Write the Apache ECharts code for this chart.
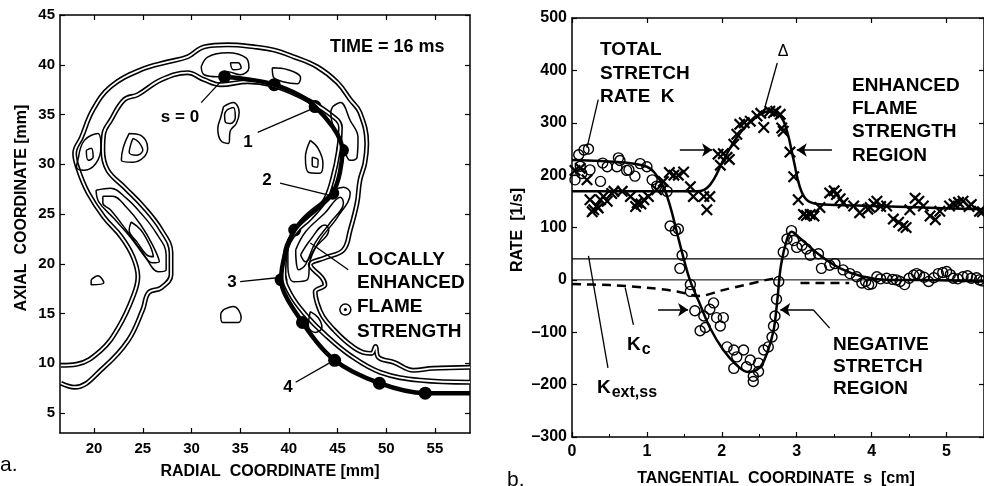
<!DOCTYPE html>
<html>
<head>
<meta charset="utf-8">
<script src="https://cdn.jsdelivr.net/npm/echarts@6/dist/echarts.min.js"></script>
<style>
  html, body { margin: 0; padding: 0; background: #fff; }
  #chart { width: 984px; height: 486px; }
</style>
</head>
<body>
<div id="chart"></div>
<script>
// ---------- panel a : flame contours, [radial mm, axial mm] ----------
const xTicksA = [20, 25, 30, 35, 40, 45, 50, 55];
const yTicksA = [5, 10, 15, 20, 25, 30, 35, 40, 45];

// outer edge of the flame sheet (double contour)
const outerEdge = [
  [16.6, 9.8], [18.2, 9.9], [20.7, 11.3], [22.5, 13.6], [24.0, 16.7], [24.5, 18.7],
  [24.0, 20.7], [22.8, 22.7], [21.0, 24.7], [19.4, 27.1], [18.4, 29.4], [18.0, 31.1],
  [18.7, 32.7], [19.9, 35.5], [21.7, 37.8], [24.8, 39.5], [27.6, 40.3], [29.6, 40.8],
  [31.3, 41.8], [33.7, 42.0], [36.4, 41.8], [38.4, 41.5], [40.5, 40.8], [42.9, 39.8],
  [45.0, 38.2], [46.3, 36.5], [47.3, 35.2], [48.0, 32.1], [47.8, 30.1], [47.3, 28.4],
  [47.0, 26.1], [46.3, 23.4], [45.6, 21.4], [43.7, 20.6], [42.2, 19.9], [43.4, 18.6],
  [43.7, 17.9], [42.7, 17.2], [42.9, 16.1], [43.5, 14.7], [44.6, 13.4], [46.0, 12.1],
  [47.6, 11.1], [48.5, 11.0], [48.9, 11.7], [49.2, 10.6], [50.8, 10.1], [52.8, 9.3],
  [54.8, 9.5], [58.6, 9.6]
];
// inner edge of the flame sheet (double contour)
const innerEdge = [
  [16.6, 8.0], [18.0, 7.6], [21.0, 9.6], [23.5, 12.3], [25.0, 15.4], [25.6, 17.1],
  [26.9, 17.6], [27.9, 18.9], [27.9, 21.1], [26.9, 23.4], [25.1, 25.7], [23.1, 27.7],
  [21.4, 29.4], [20.9, 31.4], [21.0, 33.1], [21.7, 34.4], [23.1, 36.5], [24.5, 37.0],
  [26.9, 38.5], [29.6, 39.2], [31.3, 38.5], [33.0, 38.0], [35.8, 38.3], [38.1, 38.0],
  [41.2, 36.8], [44.0, 35.2], [45.3, 33.7], [45.1, 31.4], [44.5, 28.6], [43.7, 26.4],
  [42.2, 24.6], [40.7, 23.2], [39.7, 21.4], [39.5, 18.9], [40.2, 16.9], [41.7, 14.9],
  [43.7, 12.9], [46.3, 10.8], [49.4, 9.1], [53.5, 8.3], [58.6, 8.1]
];
// closed contour islands
const islands = [
  [[23.6, 33.1], [24.8, 32.9], [25.5, 31.6], [25.1, 30.7], [24.0, 30.2], [22.8, 30.4], [23.0, 31.7]],
  [[24.0, 32.6], [24.6, 32.2], [25.0, 31.4], [24.3, 30.9], [23.6, 31.2], [23.8, 32.1]],
  [[33.3, 35.8], [34.3, 36.2], [34.9, 35.2], [34.6, 34.1], [34.0, 33.4], [33.8, 32.1], [33.0, 32.4], [32.7, 33.6], [33.0, 34.7]],
  [[33.7, 35.5], [34.3, 35.7], [34.5, 34.7], [34.0, 34.1], [33.5, 34.2], [33.4, 35.0]],
  [[42.2, 32.4], [43.0, 31.6], [43.5, 30.1], [43.2, 29.1], [42.0, 29.2], [41.7, 30.7]],
  [[42.4, 30.7], [43.0, 30.4], [42.9, 29.7], [42.4, 29.9]],
  [[19.7, 18.4], [20.4, 18.8], [21.0, 18.1], [19.7, 17.9]],
  [[33.3, 15.4], [34.3, 15.7], [35.1, 14.6], [34.8, 14.1], [33.2, 14.1], [33.0, 14.9]],
  [[31.0, 39.8], [31.7, 40.8], [33.7, 41.2], [35.6, 40.7], [35.9, 39.7], [35.0, 39.0], [33.7, 39.3], [32.7, 38.8], [31.3, 39.0]],
  [[34.0, 40.2], [34.8, 40.2], [35.1, 39.7], [34.3, 39.5]],
  [[38.3, 39.7], [39.9, 39.5], [41.2, 38.7], [40.9, 38.1], [39.4, 38.3], [38.4, 38.8]],
  [[44.5, 35.8], [45.3, 36.2], [46.3, 34.4], [47.1, 32.7], [47.0, 30.7], [46.3, 30.4], [45.6, 31.7], [44.6, 33.7], [44.3, 35.2]],
  [[18.4, 30.7], [19.0, 32.4], [20.4, 33.1], [20.7, 31.7], [20.2, 30.1], [19.0, 29.4], [18.2, 29.7]],
  [[19.2, 31.4], [19.7, 31.6], [19.9, 30.7], [19.4, 30.4]],
  [[20.2, 27.4], [21.7, 27.6], [23.3, 26.6], [24.8, 25.1], [26.3, 23.2], [27.4, 20.9], [27.4, 19.4], [26.6, 19.2], [25.3, 20.6], [23.8, 22.6], [22.0, 24.6], [20.5, 26.2]],
  [[20.9, 26.8], [21.9, 26.8], [23.3, 25.7], [24.8, 23.9], [26.0, 21.9], [26.7, 20.2], [26.0, 20.1], [24.8, 21.4], [23.3, 23.4], [21.7, 25.4], [20.9, 26.1]],
  [[23.8, 24.2], [24.8, 23.4], [25.8, 21.7], [26.1, 20.7], [25.4, 20.9], [24.4, 22.2], [23.6, 23.4]],
  [[39.9, 22.4], [41.2, 24.4], [43.2, 26.1], [45.6, 27.7], [46.3, 27.1], [45.0, 24.7], [43.2, 22.4], [42.2, 20.4], [41.9, 18.4], [40.5, 18.2], [39.9, 19.7]],
  [[40.7, 21.4], [41.7, 23.2], [43.7, 25.1], [45.3, 26.7], [45.6, 26.1], [44.3, 24.2], [42.7, 22.1], [41.7, 19.9], [41.0, 19.4]],
  [[41.2, 20.9], [42.2, 22.4], [43.7, 23.9], [44.1, 23.4], [42.7, 21.6], [41.7, 20.2]],
  [[42.2, 15.2], [43.0, 14.6], [43.4, 13.6], [42.7, 13.1], [42.0, 13.8]]
];
const smallRing = [[45.8, 15.4]];
// flame front path used for s, with its marker dots
const flameDots = [
  [33.4, 38.8], [38.5, 38.0], [42.7, 35.8], [45.5, 31.4], [44.5, 27.1], [40.6, 23.4],
  [39.2, 18.4], [41.4, 14.1], [44.7, 10.3], [49.3, 8.0], [54.0, 7.0]
];
const flameEnd = [[58.6, 7.0]];
// leader lines of panel a
const leadersA = [
  [[31.0, 36.2], [33.0, 38.3]],
  [[36.8, 33.2], [42.2, 35.5]],
  [[39.1, 28.1], [44.1, 26.9]],
  [[35.0, 18.2], [38.8, 18.6]],
  [[40.7, 8.1], [44.1, 10.0]],
  [[46.1, 19.4], [42.2, 22.1]]
];

// ---------- panel b : rates along s ----------
const stretchFitS = [0, 0.7, 1.0, 1.1, 1.22, 1.31, 1.4, 1.49, 1.58, 1.71, 1.84, 2.02, 2.2, 2.35, 2.5, 2.6, 2.69, 2.74, 2.79, 2.87, 2.93, 3.04, 3.31, 3.58, 3.89, 4.24, 4.69, 5.5];
const stretchFitK = [229, 224, 216, 205, 178, 141, 91, 41, -3, -47, -91, -134, -163, -176, -168, -141, -97, -40, 28, 78, 92, 80, 47, 22, 6, 0, 0, -3];
const strengthFitS = [0, 1.13, 1.67, 1.84, 2.02, 2.2, 2.42, 2.64, 2.78, 2.87, 2.96, 3.04, 3.13, 3.27, 3.8, 4.69, 5.5];
const strengthFitK = [169, 169, 169, 181, 228, 272, 306, 322, 313, 284, 228, 178, 153, 145, 142, 138, 135];
const circS = [0.09, 0.16, 0.22, 0.04, 0.11, 0.13, 0.24, 0.38, 0.41, 0.47, 0.6, 0.62, 0.64, 0.73, 0.76, 0.84, 0.91, 1.0, 1.07, 1.13, 1.18, 1.27,
  1.31, 1.38, 1.42, 1.47, 1.44, 1.58, 1.58, 1.64, 1.76, 1.84, 1.89, 1.93, 2.02, 1.98, 1.71, 1.78, 2.07, 2.16, 2.29, 2.2, 2.16, 2.33, 2.38, 2.42, 2.42, 2.49, 2.49, 2.56, 2.62, 2.67, 2.69, 2.71, 2.73, 2.76,
  2.82, 2.87, 2.93, 2.96, 3.0, 3.07, 3.13, 3.18, 3.29, 3.33, 3.44, 3.51, 3.62, 3.71, 3.8, 3.87, 3.96, 4.07, 4.2, 4.33, 4.44, 4.56, 4.64, 4.76, 4.89, 5.0, 5.09, 5.22, 5.33, 5.44,
  3.92, 4.0, 4.12, 4.28, 4.38, 4.5, 4.6, 4.7, 4.83, 4.95, 5.05, 5.15, 5.28, 5.4, 5.48];
const circK = [239, 248, 250, 191, 217, 203, 210, 188, 223, 216, 216, 233, 228, 209, 210, 198, 222, 216, 191, 179, 178, 169,
  103, 94, 97, 47, 22, -9, -22, -59, -69, -56, -44, -72, -72, -88, -97, -91, -128, -134, -134, -147, -169, -166, -153, -184, -194, -175, -159, -134, -128, -109, -88, -69, -37, -3,
  53, 78, 94, 75, 62, 66, 59, 47, 50, 22, 28, 31, 19, 12, 6, -6, -9, 6, 3, 0, -9, 9, 9, -3, 12, 16, 3, 6, 3, 0,
  -3, -8, 2, 1, -3, 3, 12, 5, 4, 14, 10, 2, 8, 4, -2];
const crossS = [0.04, 0.11, 0.2, 0.24, 0.29, 0.33, 0.38, 0.42, 0.56, 0.67, 0.78, 0.87, 0.96, 1.02, 1.13, 1.22, 1.36, 1.49, 1.58, 1.62,
  1.76, 1.84, 1.8, 1.98, 2.02, 2.07, 2.16, 2.2, 2.24, 2.38, 2.47, 2.56, 2.64, 2.69, 2.78, 2.82, 2.91, 2.96, 3.02, 3.09,
  3.18, 3.31, 3.44, 3.53, 3.62, 3.76, 3.84, 3.98, 4.07, 4.2, 4.29, 4.42, 4.51, 4.58, 4.69, 4.78, 4.91, 5.04, 5.22, 5.33, 5.44,
  0.27, 0.35, 0.47, 0.53, 0.85, 0.92, 1.3, 1.42, 1.95, 2.1, 2.3, 2.52, 2.72, 2.8, 3.13, 3.23, 3.5, 3.58, 3.95, 4.03, 4.12,
  4.36, 4.46, 4.63, 4.85, 5.1, 5.16, 5.3, 5.48];
const crossK = [209, 213, 191, 153, 134, 141, 153, 159, 169, 169, 159, 147, 153, 159, 172, 188, 200, 206, 178, 159,
  159, 159, 134, 219, 241, 234, 259, 278, 297, 303, 313, 291, 322, 319, 316, 284, 244, 197, 153, 125,
  125, 138, 166, 163, 147, 141, 128, 138, 150, 141, 116, 103, 134, 156, 141, 122, 131, 141, 150, 144, 131,
  130, 137, 150, 165, 140, 145, 205, 200, 240, 230, 300, 318, 322, 290, 123, 122, 170, 155, 135, 145, 140,
  110, 100, 150, 115, 145, 148, 140, 130];
const kcS = [0, 0.5, 1.0, 1.4, 1.7, 2.0, 2.3, 2.6, 2.78];
const kcK = [-8, -10, -15, -22, -31, -20, -10, 0, 5];
const kcTailS = [3.05, 3.7];
const kcTailK = [-6, -6];
const kExtSS = 40;
const leadersB = [
  [[0.35, 344], [0.2, 252]],
  [[2.74, 414], [2.58, 332]],
  [[0.82, -86], [0.71, -15]],
  [[0.22, 46], [0.48, -168]],
  [[3.44, -92], [3.22, -57]]
];
const arrowsB = [
  [[1.44, 248], [1.87, 248]],
  [[3.47, 248], [3.0, 248]],
  [[1.15, -57], [1.55, -57]],
  [[3.22, -57], [2.78, -57]]
];

const zip = (a, b) => a.map((v, i) => [v, b[i]]);
const FONT = '"Liberation Sans", Arial, sans-serif';
const CROSS = 'path://M0,1.3L1.3,0L5,3.7L8.7,0L10,1.3L6.3,5L10,8.7L8.7,10L5,6.3L1.3,10L0,8.7L3.7,5Z';

const chart = echarts.init(document.getElementById('chart'));

function axisCommon(extra) {
  return Object.assign({
    type: 'value',
    axisLine: { onZero: false, lineStyle: { color: '#000', width: 1.5 } },
    axisTick: { inside: true, length: 5, lineStyle: { color: '#000', width: 1.2 } },
    axisLabel: { color: '#000', fontWeight: 'bold', fontFamily: FONT },
    splitLine: { show: false }
  }, extra);
}

const series = [];
// double contour edges: black band with white core
[outerEdge, innerEdge].forEach((pts) => {
  series.push({ type: 'line', xAxisIndex: 0, yAxisIndex: 0, data: pts, smooth: 0.4, symbol: 'none',
    lineStyle: { color: '#000', width: 5 }, silent: true });
  series.push({ type: 'line', xAxisIndex: 0, yAxisIndex: 0, data: pts, smooth: 0.4, symbol: 'none',
    lineStyle: { color: '#fff', width: 1.8 }, silent: true });
});
islands.forEach((loop) => {
  series.push({ type: 'line', xAxisIndex: 0, yAxisIndex: 0, data: loop.concat([loop[0]]), smooth: 0.4,
    symbol: 'none', lineStyle: { color: '#000', width: 1.5 }, silent: true });
});
series.push({ type: 'scatter', xAxisIndex: 0, yAxisIndex: 0, data: smallRing, symbol: 'circle',
  symbolSize: 11, itemStyle: { color: '#fff', borderColor: '#000', borderWidth: 1.5, opacity: 1 }, silent: true });
series.push({ type: 'scatter', xAxisIndex: 0, yAxisIndex: 0, data: smallRing, symbol: 'circle',
  symbolSize: 3, itemStyle: { color: '#000', opacity: 1 }, silent: true });
series.push({ type: 'line', xAxisIndex: 0, yAxisIndex: 0, data: flameDots.concat(flameEnd), smooth: 0.3,
  symbol: 'none', lineStyle: { color: '#000', width: 4.5 }, silent: true });
series.push({ type: 'scatter', xAxisIndex: 0, yAxisIndex: 0, data: flameDots, symbol: 'circle',
  symbolSize: 13, itemStyle: { color: '#000', opacity: 1 }, silent: true });
leadersA.forEach((seg) => {
  series.push({ type: 'line', xAxisIndex: 0, yAxisIndex: 0, data: seg, symbol: 'none',
    lineStyle: { color: '#000', width: 1.3 }, silent: true });
});

// panel b
series.push({ type: 'line', xAxisIndex: 2, yAxisIndex: 2, data: [[0, kExtSS], [5.5, kExtSS]], symbol: 'none',
  lineStyle: { color: '#000', width: 1.2 }, silent: true,
  markLine: { silent: true, symbol: ['none', 'arrow'], symbolSize: 10, label: { show: false },
    lineStyle: { color: '#000', width: 1.5, type: 'solid' },
    data: arrowsB.map((a) => [{ coord: a[0] }, { coord: a[1] }]) } });
series.push({ type: 'line', xAxisIndex: 2, yAxisIndex: 2, data: [[0, 0], [5.5, 0]], symbol: 'none',
  lineStyle: { color: '#000', width: 1 }, silent: true });
series.push({ type: 'line', xAxisIndex: 2, yAxisIndex: 2, data: zip(kcS, kcK), smooth: 0.3, symbol: 'none',
  lineStyle: { color: '#000', width: 2.5, type: [9, 6] }, silent: true });
series.push({ type: 'line', xAxisIndex: 2, yAxisIndex: 2, data: zip(kcTailS, kcTailK), symbol: 'none',
  lineStyle: { color: '#000', width: 2.5, type: [9, 6] }, silent: true });
series.push({ type: 'scatter', xAxisIndex: 2, yAxisIndex: 2, data: zip(crossS, crossK), symbol: CROSS,
  symbolSize: 12, itemStyle: { color: '#000', opacity: 1 }, silent: true });
series.push({ type: 'scatter', xAxisIndex: 2, yAxisIndex: 2, data: zip(circS, circK), symbol: 'circle',
  symbolSize: 10, itemStyle: { color: 'rgba(255,255,255,0)', borderColor: '#000', borderWidth: 1.4, opacity: 1 }, silent: true });
series.push({ type: 'line', xAxisIndex: 2, yAxisIndex: 2, data: zip(stretchFitS, stretchFitK), smooth: 0.4,
  symbol: 'none', lineStyle: { color: '#000', width: 2.5 }, silent: true });
series.push({ type: 'line', xAxisIndex: 2, yAxisIndex: 2, data: zip(strengthFitS, strengthFitK), smooth: 0.4,
  symbol: 'none', lineStyle: { color: '#000', width: 2.5 }, silent: true });
leadersB.forEach((seg) => {
  series.push({ type: 'line', xAxisIndex: 2, yAxisIndex: 2, data: seg, symbol: 'none',
    lineStyle: { color: '#000', width: 1.3 }, silent: true });
});

function txt(x, y, text, size, opts) {
  return Object.assign({
    type: 'text', x: x, y: y, silent: true,
    style: { text: text, font: 'bold ' + size + 'px ' + FONT, fill: '#000',
      align: 'left', verticalAlign: 'middle' }
  }, opts || {});
}
function styled(el, style) { Object.assign(el.style, style); return el; }

const graphics = [
  txt(330, 47, 'TIME = 16 ms', 18),
  styled(txt(180, 117, 's = 0', 17), { align: 'center' }),
  styled(txt(248, 142, '1', 17), { align: 'center' }),
  styled(txt(267, 180, '2', 17), { align: 'center' }),
  styled(txt(232, 282, '3', 17), { align: 'center' }),
  styled(txt(288, 387, '4', 17), { align: 'center' }),
  txt(357, 260, 'LOCALLY', 19),
  txt(357, 283, 'ENHANCED', 19),
  txt(357, 307, 'FLAME', 19),
  txt(357, 332, 'STRENGTH', 19),
  styled(txt(22, 208, 'AXIAL  COORDINATE [mm]', 16, { rotation: Math.PI / 2 }), { align: 'center' }),
  styled(txt(270, 472, 'RADIAL  COORDINATE [mm]', 16), { align: 'center' }),
  styled(txt(0, 465, 'a.', 21), { font: '21px ' + FONT }),
  txt(600, 50, 'TOTAL', 19),
  txt(600, 74, 'STRETCH', 19),
  txt(600, 97, 'RATE  K', 19),
  styled(txt(783, 52, 'Δ', 16), { align: 'center', font: '16px ' + FONT }),
  txt(852, 86, 'ENHANCED', 19),
  txt(852, 109, 'FLAME', 19),
  txt(852, 132, 'STRENGTH', 19),
  txt(852, 156, 'REGION', 19),
  txt(833, 345, 'NEGATIVE', 19),
  txt(833, 367, 'STRETCH', 19),
  txt(833, 389, 'REGION', 19),
  { type: 'text', x: 627, y: 345, silent: true,
    style: { text: '{k|K}{s|c}', fill: '#000', verticalAlign: 'middle',
      rich: { k: { font: 'bold 19px ' + FONT, fill: '#000' },
        s: { font: 'bold 16px ' + FONT, fill: '#000', padding: [10, 0, 0, 1] } } } },
  { type: 'text', x: 597, y: 388, silent: true,
    style: { text: '{k|K}{s|ext,ss}', fill: '#000', verticalAlign: 'middle',
      rich: { k: { font: 'bold 19px ' + FONT, fill: '#000' },
        s: { font: 'bold 16px ' + FONT, fill: '#000', padding: [10, 0, 0, 1] } } } },
  styled(txt(518, 230, 'RATE  [1/s]', 16, { rotation: Math.PI / 2 }), { align: 'center' }),
  styled(txt(776, 479, 'TANGENTIAL  COORDINATE  s  [cm]', 16), { align: 'center' }),
  styled(txt(507, 480, 'b.', 21), { font: '21px ' + FONT })
];

const option = {
  animation: false,
  backgroundColor: '#fff',
  grid: [
    { left: 60, top: 15, width: 410, height: 418, outerBoundsMode: 'none' },
    { left: 572, top: 18, width: 412, height: 419, outerBoundsMode: 'none' }
  ],
  xAxis: [
    axisCommon({ gridIndex: 0, min: 16.5, max: 58.6,
      axisTick: { inside: true, length: 5, customValues: xTicksA, lineStyle: { color: '#000', width: 1.2 } },
      axisLabel: { customValues: xTicksA, color: '#000', fontWeight: 'bold', fontFamily: FONT, fontSize: 15, margin: 8 } }),
    axisCommon({ gridIndex: 0, position: 'top', min: 16.5, max: 58.6,
      axisTick: { inside: true, length: 5, customValues: xTicksA, lineStyle: { color: '#000', width: 1.2 } },
      axisLabel: { show: false } }),
    axisCommon({ gridIndex: 1, min: 0, max: 5.5, interval: 1,
      minorTick: { show: true, splitNumber: 2, length: 3, lineStyle: { color: '#000' } },
      axisLabel: { color: '#000', fontWeight: 'bold', fontFamily: FONT, fontSize: 16, margin: 7, showMaxLabel: false } }),
    axisCommon({ gridIndex: 1, position: 'top', min: 0, max: 5.5, interval: 1, axisLabel: { show: false } })
  ],
  yAxis: [
    axisCommon({ gridIndex: 0, min: 3, max: 45,
      axisTick: { inside: true, length: 5, customValues: yTicksA, lineStyle: { color: '#000', width: 1.2 } },
      axisLabel: { customValues: yTicksA, color: '#000', fontWeight: 'bold', fontFamily: FONT, fontSize: 15, margin: 5 } }),
    axisCommon({ gridIndex: 0, position: 'right', min: 3, max: 45,
      axisTick: { inside: true, length: 5, customValues: yTicksA, lineStyle: { color: '#000', width: 1.2 } },
      axisLabel: { show: false } }),
    axisCommon({ gridIndex: 1, min: -300, max: 500, interval: 100,
      axisLabel: { color: '#000', fontWeight: 'bold', fontFamily: FONT, fontSize: 16, margin: 5,
        formatter: (v) => (v < 0 ? '–' + (-v) : String(v)) } }),
    axisCommon({ gridIndex: 1, position: 'right', min: -300, max: 500, interval: 100, axisLabel: { show: false } })
  ],
  series: series,
  graphic: graphics
};
chart.setOption(option);
</script>
</body>
</html>
